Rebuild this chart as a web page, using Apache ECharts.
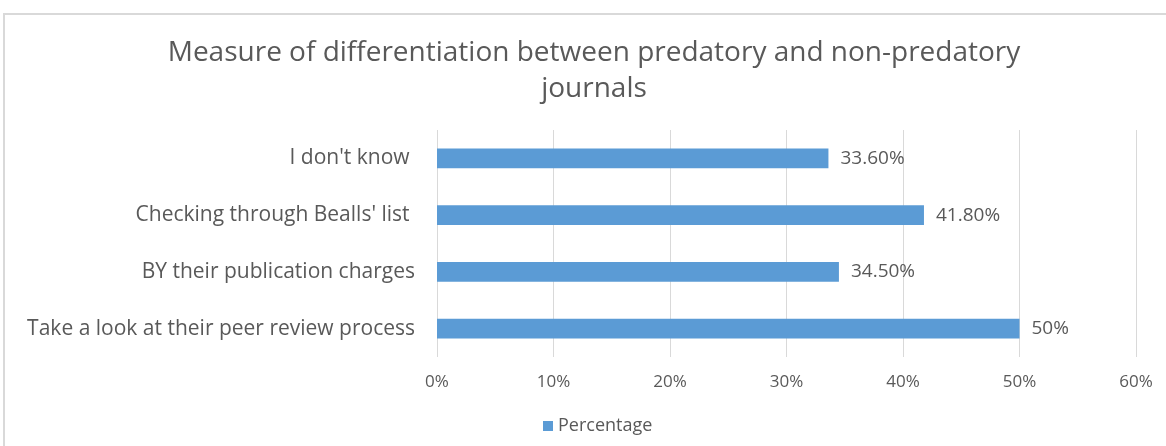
<!DOCTYPE html>
<html>
<head>
<meta charset="utf-8">
<script src="https://cdn.jsdelivr.net/npm/echarts@6/dist/echarts.min.js"></script>
<style>
html, body { margin: 0; padding: 0; background: #fff; }
#diffChart { width: 1166px; height: 446px; }
</style>
</head>
<body>
<div id="diffChart"></div>
<script>
// categories bottom -> top (ECharts draws first category at the bottom)
const categories = [
  'Take a look at their peer review process',
  'BY their publication charges',
  "Checking through Bealls' list ",
  "I don't know "
]
const percentValues = [50, 34.5, 41.8, 33.6]
const tickValues = [0, 10, 20, 30, 40, 50, 60]

const textColor = '#595959'
const fontFamily = '"Open Sans", "Noto Sans", sans-serif'

let chartDom = echarts.init(document.getElementById('diffChart'))
const option = {
  animation: false,
  title: {
    text: 'Measure of differentiation between predatory and non-predatory\njournals',
    left: 594,
    top: 35,
    padding: 0,
    textAlign: 'center',
    textStyle: {
      color: textColor,
      fontFamily: fontFamily,
      fontWeight: 'normal',
      fontSize: 28,
      lineHeight: 36,
    },
  },
  graphic: [
    {
      type: 'rect',
      silent: true,
      shape: { x: 4, y: 14, width: 1300, height: 600 },
      style: { fill: 'none', stroke: '#d9d9d9', lineWidth: 2 },
    },
  ],
  grid: {
    left: 437,
    right: 30,
    top: 130,
    bottom: 89,
  },
  legend: {
    left: 543,
    top: 417,
    padding: 0,
    itemWidth: 10,
    itemHeight: 10,
    icon: 'rect',
    itemGap: 4,
    textStyle: { color: textColor, fontFamily: fontFamily, fontSize: 18 },
    data: ['Percentage'],
  },
  xAxis: {
    type: 'value',
    min: tickValues[0],
    max: tickValues[tickValues.length - 1],
    interval: 10,
    axisLine: { show: false },
    axisTick: { show: false },
    splitLine: { show: true, lineStyle: { color: '#d9d9d9', width: 1 } },
    axisLabel: {
      color: textColor,
      fontFamily: fontFamily,
      fontSize: 17,
      margin: 17,
      formatter: (v) => v + '%',
    },
  },
  yAxis: {
    type: 'category',
    data: categories,
    axisLine: { show: false },
    axisTick: { show: false },
    axisLabel: {
      color: textColor,
      fontFamily: fontFamily,
      fontSize: 21,
      margin: 22,
    },
  },
  series: [
    {
      name: 'Percentage',
      type: 'bar',
      data: percentValues,
      barWidth: '35%',
      itemStyle: { color: '#5B9BD5' },
      label: {
        show: true,
        position: 'right',
        distance: 12,
        color: textColor,
        fontFamily: fontFamily,
        fontSize: 19,
        formatter: (p) =>
          Number.isInteger(p.value) ? p.value + '%' : p.value.toFixed(2) + '%',
      },
    },
  ],
}
chartDom.setOption(option)
window.addEventListener('resize', () => {
  chartDom.resize()
})
</script>
</body>
</html>
